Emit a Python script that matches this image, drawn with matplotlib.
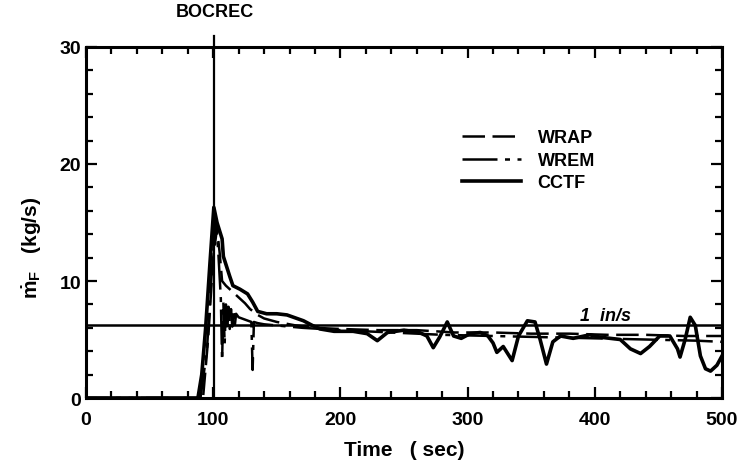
#!/usr/bin/env python

import matplotlib
matplotlib.use("Agg")
import matplotlib.pyplot as plt
from matplotlib.ticker import MultipleLocator

# CCTF measured flooding rate
cctf_t = [0, 88, 91, 94, 97.5, 100.5, 103, 107, 108, 113, 115.5, 121, 127, 131,
          135, 142, 150, 158, 171, 178, 184, 195, 210, 221, 229, 237, 250, 262,
          268, 273, 278, 284, 289, 295, 302, 310, 316, 320, 323, 328, 335, 340,
          347, 353, 357, 362, 367, 373, 383, 396, 404, 420, 428, 436, 443, 451,
          459, 465, 467, 471, 475, 479, 483, 487, 491, 496, 500]
cctf_v = [0, 0, 2.0, 5.9, 11.6, 16.3, 15.0, 13.6, 12.1, 10.4, 9.6, 9.3, 8.9, 8.2,
          7.4, 7.2, 7.2, 7.1, 6.6, 6.2, 5.9, 5.7, 5.7, 5.5, 4.9, 5.6, 5.8, 5.6,
          5.3, 4.3, 5.2, 6.5, 5.3, 5.1, 5.5, 5.6, 5.3, 4.7, 3.9, 4.4, 3.2, 5.3,
          6.6, 6.5, 5.0, 2.9, 4.8, 5.3, 5.1, 5.4, 5.2, 5.0, 4.2, 3.8, 4.4, 5.3,
          5.3, 4.2, 3.5, 5.0, 6.9, 6.2, 3.6, 2.5, 2.3, 2.8, 3.6]

# WRAP calculation
wrap_t = [0, 92, 96, 100, 103, 105, 107, 110, 115, 120, 125, 129, 135, 140, 150,
          165, 180, 200, 230, 260, 290, 320, 350, 380, 410, 440, 470, 500]
wrap_v = [0, 0, 5, 12, 14.5, 12.5, 10.0, 9.6, 9.1, 8.6, 8.1, 7.6, 7.1, 6.8, 6.5,
          6.2, 6.0, 5.9, 5.8, 5.8, 5.6, 5.6, 5.5, 5.5, 5.4, 5.4, 5.3, 5.3]

# WREM calculation
wrem_t = [0, 90, 95, 99, 102, 104, 106, 107, 108, 109, 110, 111, 112, 113, 114,
          115, 116, 117, 118, 120, 125, 130, 131, 132, 135, 140, 150, 170, 200,
          240, 280, 320, 360, 400, 440, 480, 500]
wrem_v = [0, 0, 4, 11, 15.3, 12.5, 8.5, 3.2, 8.2, 4.6, 8.0, 5.8, 7.8, 5.9, 7.6,
          6.1, 7.4, 6.2, 7.2, 6.9, 6.7, 6.5, 2.4, 6.5, 6.4, 6.3, 6.2, 6.0, 5.8,
          5.6, 5.4, 5.3, 5.2, 5.1, 5.0, 4.9, 4.8]

one_inch_rate = 6.2
bocrec_time = 101.


def main():
    plt.rcParams["font.family"] = ["Liberation Sans", "DejaVu Sans"]
    plt.rcParams["font.weight"] = "bold"
    plt.rcParams["axes.labelweight"] = "bold"
    plt.rcParams["mathtext.fontset"] = "custom"
    plt.rcParams["mathtext.rm"] = "Liberation Sans:bold"
    plt.rcParams["mathtext.it"] = "Liberation Sans:bold"

    fig = plt.figure(figsize=(7.4, 4.77), dpi=100)
    ax = fig.add_axes([0.1162, 0.1635, 0.8595, 0.7359])

    ax.plot(wrap_t, wrap_v, color="k", lw=1.8, dashes=(9, 3), label="WRAP")
    ax.plot(wrem_t, wrem_v, color="k", lw=1.8, dashes=(14, 3, 2, 3), label="WREM")
    ax.plot(cctf_t, cctf_v, color="k", lw=2.6, label="CCTF")

    ax.axhline(one_inch_rate, color="k", lw=1.8)
    ax.axvline(bocrec_time, ymin=0, ymax=1.03, color="k", lw=1.6, clip_on=False)

    ax.text(388, one_inch_rate + 0.45, "1  in/s", fontsize=13, style="italic")
    ax.text(bocrec_time, 33.0, "BOCREC", fontsize=13, ha="center", va="center")

    ax.set_xlim(0, 500)
    ax.set_ylim(0, 30)
    ax.xaxis.set_major_locator(MultipleLocator(100))
    ax.xaxis.set_minor_locator(MultipleLocator(20))
    ax.yaxis.set_major_locator(MultipleLocator(10))
    ax.yaxis.set_minor_locator(MultipleLocator(2))
    ax.tick_params(which="both", direction="in", top=True, right=True,
                   width=1.6, labelsize=14)
    ax.tick_params(which="major", length=8)
    ax.tick_params(which="minor", length=5)
    ax.tick_params(axis="x", which="major", pad=9)
    for sp in ax.spines.values():
        sp.set_linewidth(2.2)

    ax.set_xlabel("Time   ( sec)", fontsize=15, labelpad=9)
    ax.set_ylabel(r"$\dot{\mathrm{m}}_{\mathrm{F}}$   (kg/s)", fontsize=15)
    ax.yaxis.set_label_coords(-0.066, 0.43)

    ax.legend(loc="upper left", bbox_to_anchor=(0.591, 0.765), frameon=False,
              fontsize=13, handlelength=3.3, handletextpad=0.9,
              labelspacing=0.3, borderpad=0, borderaxespad=0)

    fig.savefig("out.png", dpi=100)
    return


if __name__ == "__main__":
    main()
